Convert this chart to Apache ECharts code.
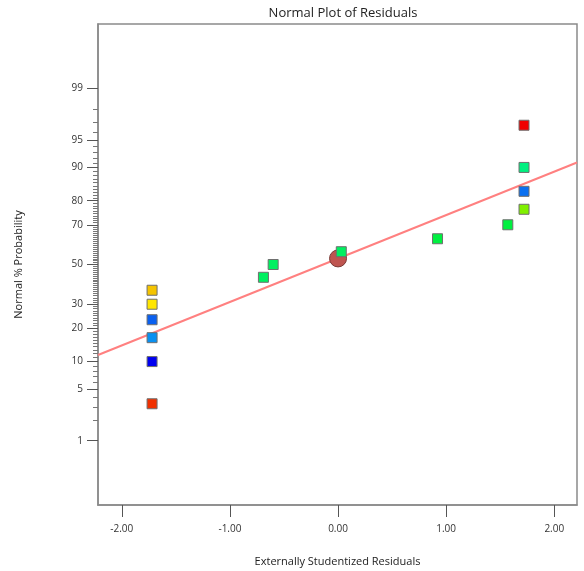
<!DOCTYPE html>
<html>
<head>
<meta charset="utf-8">
<script src="https://cdn.jsdelivr.net/npm/echarts@6/dist/echarts.min.js"></script>
<style>html,body{margin:0;padding:0;background:#fff}#c{width:584px;height:571px}</style>
</head>
<body>
<div id="c"></div>
<script>
// ---- data ----
var residuals   = [-1.72, -1.72, -1.72, -1.72, -1.72, -1.72, -0.69, -0.60, 0.03, 0.92, 1.57, 1.72, 1.72, 1.72, 1.72];
var probability = [3.3, 10.0, 16.7, 23.3, 30.0, 36.7, 43.3, 50.0, 56.7, 63.3, 70.0, 76.7, 83.3, 90.0, 96.7];
var pointColors = ['#F03000', '#0000F0', '#0A90F0', '#0A60F0', '#FFE600', '#F5C400', '#00F060', '#00F060', '#00F060', '#00F040', '#00F040', '#80F000', '#0A70F0', '#00F080', '#F00000'];
var meanPoint   = [0.0, 53.2];
var lineX       = [-2.22, 2.21];
var lineP       = [11.6, 91.1];
var xTicks      = [-2, -1, 0, 1, 2];
var yMajorTicks = [1, 5, 10, 20, 30, 50, 70, 80, 90, 95, 99];
var yMinorTicks = [2, 3, 4, 6, 7, 8, 9, 11, 12, 13, 14, 15, 16, 17, 18, 19, 21, 22, 23, 24, 25, 26, 27, 28, 29,
  31, 32, 33, 34, 35, 36, 37, 38, 39, 40, 41, 42, 43, 44, 45, 46, 47, 48, 49,
  51, 52, 53, 54, 55, 56, 57, 58, 59, 60, 61, 62, 63, 64, 65, 66, 67, 68, 69,
  71, 72, 73, 74, 75, 76, 77, 78, 79, 81, 82, 83, 84, 85, 86, 87, 88, 89, 91, 92, 93, 94, 96, 97, 98];

// inverse standard normal CDF (Acklam)
function invNorm(p) {
  var a = [-3.969683028665376e+01, 2.209460984245205e+02, -2.759285104469687e+02, 1.383577518672690e+02, -3.066479806614716e+01, 2.506628277459239e+00];
  var b = [-5.447609879822406e+01, 1.615858368580409e+02, -1.556989798598866e+02, 6.680131188771972e+01, -1.328068155288572e+01];
  var c = [-7.784894002430293e-03, -3.223964580411365e-01, -2.400758277161838e+00, -2.549732539343734e+00, 4.374664141464968e+00, 2.938163982698783e+00];
  var d = [7.784695709041462e-03, 3.224671290700398e-01, 2.445134137142996e+00, 3.754408661907416e+00];
  var pl = 0.02425, q, r;
  if (p < pl) { q = Math.sqrt(-2 * Math.log(p)); return (((((c[0]*q+c[1])*q+c[2])*q+c[3])*q+c[4])*q+c[5]) / ((((d[0]*q+d[1])*q+d[2])*q+d[3])*q+1); }
  if (p > 1 - pl) { q = Math.sqrt(-2 * Math.log(1 - p)); return -(((((c[0]*q+c[1])*q+c[2])*q+c[3])*q+c[4])*q+c[5]) / ((((d[0]*q+d[1])*q+d[2])*q+d[3])*q+1); }
  q = p - 0.5; r = q * q;
  return (((((a[0]*r+a[1])*r+a[2])*r+a[3])*r+a[4])*r+a[5])*q / (((((b[0]*r+b[1])*r+b[2])*r+b[3])*r+b[4])*r+1);
}
function z(pct) { return invNorm(pct / 100); }

var majorZ = yMajorTicks.map(z);
var minorZ = yMinorTicks.map(z);
var points = residuals.map(function (x, i) {
  return { value: [x, z(probability[i])], itemStyle: { color: pointColors[i] } };
});

var FONT = 'Open Sans';
var chart = echarts.init(document.getElementById('c'), null, { renderer: 'canvas' });
chart.setOption({
  animation: false,
  backgroundColor: '#fff',
  title: {
    text: 'Normal Plot of Residuals', left: 338, top: 2, textAlign: 'center',
    textStyle: { fontFamily: FONT, fontSize: 13, fontWeight: 'normal', color: '#222' }
  },
  grid: { left: 98, right: 7, top: 24, bottom: 66, show: true, borderColor: '#8a8a8a', borderWidth: 1.5,
    backgroundColor: 'transparent', containLabel: false, outerBoundsMode: 'none' },
  xAxis: {
    type: 'value', min: -2.22, max: 2.21,
    name: 'Externally Studentized Residuals', nameLocation: 'middle', nameGap: 51,
    nameTextStyle: { fontFamily: FONT, fontSize: 11, color: '#222' },
    axisLine: { show: true, onZero: false, lineStyle: { color: '#8a8a8a', width: 1.5 } },
    axisTick: { show: true, length: 12, customValues: xTicks, lineStyle: { color: '#555' } },
    axisLabel: { customValues: xTicks, margin: 19, fontFamily: FONT, fontSize: 10, color: '#333',
      formatter: function (v) { return v.toFixed(2); } },
    splitLine: { show: false }
  },
  yAxis: [{
    type: 'value', min: -3.175, max: 3.175,
    name: 'Normal % Probability', nameLocation: 'middle', nameGap: 74, nameRotate: 90,
    nameTextStyle: { fontFamily: FONT, fontSize: 11, color: '#222' },
    axisLine: { show: true, onZero: false, lineStyle: { color: '#8a8a8a', width: 1.5 } },
    axisTick: { show: true, length: 11, customValues: majorZ, lineStyle: { color: '#555' } },
    axisLabel: { customValues: majorZ, margin: 15, fontFamily: FONT, fontSize: 10, color: '#333',
      formatter: function (v) {
        var best = 0, bd = 1e9;
        for (var i = 0; i < majorZ.length; i++) { var dd = Math.abs(majorZ[i] - v); if (dd < bd) { bd = dd; best = i; } }
        return String(yMajorTicks[best]);
      } },
    splitLine: { show: false }
  }, {
    type: 'value', min: -3.175, max: 3.175, position: 'left', offset: 0,
    axisLine: { show: false, onZero: false },
    axisTick: { show: true, length: 5, customValues: minorZ, lineStyle: { color: '#777' } },
    axisLabel: { show: false },
    splitLine: { show: false }
  }],
  series: [{
    type: 'line', data: [[lineX[0], z(lineP[0])], [lineX[1], z(lineP[1])]],
    showSymbol: false, symbol: 'none', lineStyle: { color: '#FF8080', width: 2 }, z: 1, silent: true
  }, {
    type: 'scatter', data: [[meanPoint[0], z(meanPoint[1])]], symbol: 'circle', symbolSize: 17,
    itemStyle: { color: '#BF5550', borderColor: '#7a3a36', borderWidth: 1, opacity: 1 }, z: 2
  }, {
    type: 'scatter', data: points, symbol: 'rect', symbolSize: 10,
    itemStyle: { borderColor: '#6f6f6f', borderWidth: 1, opacity: 1 }, z: 3
  }]
});
</script>
</body>
</html>
